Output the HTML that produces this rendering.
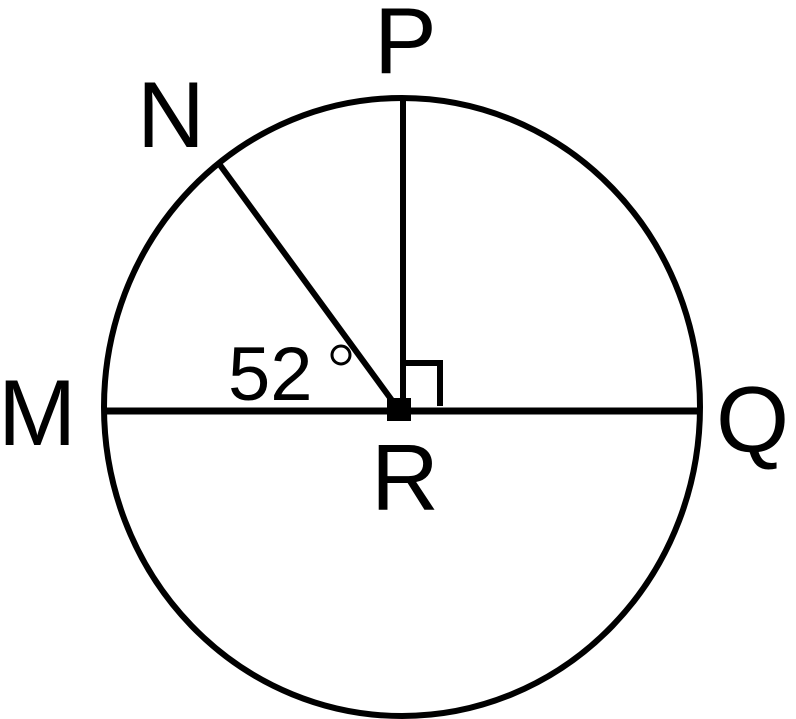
<!DOCTYPE html>
<html><head><style>
html,body{margin:0;padding:0;background:#fff;}
svg{display:block;}
text{font-family:"Liberation Sans",Arial,sans-serif;fill:#000;}
</style></head><body>
<svg width="796" height="719" viewBox="0 0 796 719" xmlns="http://www.w3.org/2000/svg">
<ellipse cx="402" cy="407" rx="298" ry="309" fill="none" stroke="#000" stroke-width="6"/>
<line x1="104" y1="411" x2="700" y2="411" stroke="#000" stroke-width="7"/>
<line x1="403" y1="100" x2="403" y2="411" stroke="#000" stroke-width="6"/>
<line x1="220" y1="165" x2="399" y2="410" stroke="#000" stroke-width="6"/>
<polyline points="403,363 440,363 440,406" fill="none" stroke="#000" stroke-width="6"/>
<rect x="387" y="398" width="24" height="23" fill="#000"/>
<text x="374" y="73" font-size="94">P</text>
<text x="137" y="147" font-size="94">N</text>
<text x="-2" y="445" font-size="94">M</text>
<text x="716" y="452" font-size="94">Q</text>
<text x="371" y="510" font-size="94">R</text>
<text x="228" y="400" font-size="76">52</text>
<circle cx="341" cy="355" r="9" fill="none" stroke="#000" stroke-width="3"/>
</svg>
</body></html>
